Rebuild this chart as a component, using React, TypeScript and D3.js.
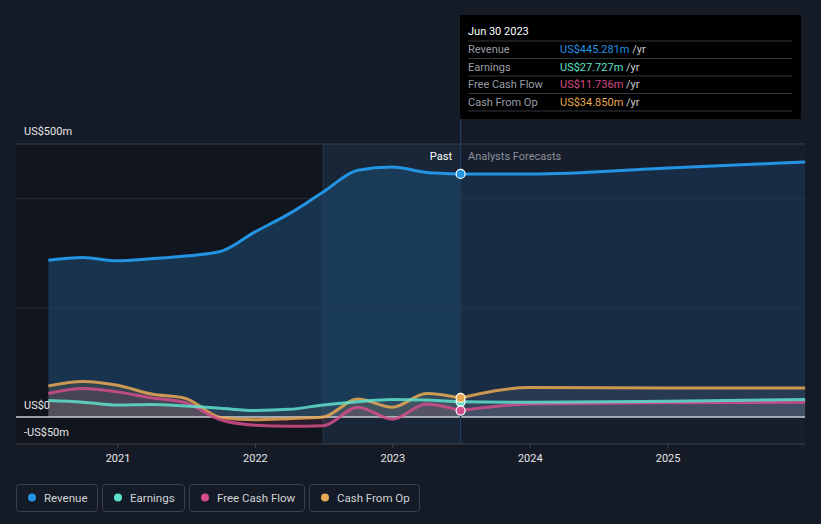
import * as d3 from "d3";

const pastDates = [
  "2020-06-30", "2020-09-30", "2020-12-31", "2021-03-31", "2021-06-30", "2021-09-30",
  "2021-12-31", "2022-03-31", "2022-06-30", "2022-09-30", "2022-12-31", "2023-03-31", "2023-06-30",
];
const forecastDates = ["2023-06-30", "2023-12-31", "2024-12-31", "2025-12-31"];

const revenuePast = [287, 292, 286, 290, 295, 303, 339, 372, 412, 452, 458, 448, 445.281];
const earningsPast = [30, 27, 22, 23, 20, 16, 12, 14, 22, 28, 32, 31, 27.727];
const fcfPast = [43, 52, 46, 35, 26, -5, -15, -17, -16, 18, -4, 24, 11.736];
const cfoPast = [57, 65, 58, 42, 34, -1, -5, -3, 0, 33, 18, 43, 34.85];

const revenueFc = [445.281, 445, 456, 467];
const earningsFc = [27.727, 27, 29, 32];
const fcfFc = [11.736, 24, 26, 27];
const cfoFc = [34.85, 54, 53, 53];

const yearTicks = ["2021", "2022", "2023", "2024", "2025"];
const gridValues = [500, 400, 200];

const W = 821;
const H = 524;
const left = 16;
const right = 805;
const top = 144;
const bottom = 444;

const C = {
  rev: "#2394e3",
  earn: "#5ee0cc",
  fcf: "#d24d8a",
  cfo: "#e8a954",
};

const parse = d3.timeParse("%Y-%m-%d");

const x = d3
  .scaleTime()
  .domain([new Date(2021, 0, 1), new Date(2026, 0, 1)])
  .range([118, 805.5]);
const y = d3.scaleLinear().domain([-50, 500]).range([444.3, 144]);

const nowDate = parse("2023-06-30")!;
const yearAgo = parse("2022-06-30")!;
const xNow = x(nowDate);
const xYearAgo = x(yearAgo);

type Pt = { d: Date; v: number };
const zip = (dates: string[], vals: number[]): Pt[] =>
  dates.map((s, i) => ({ d: parse(s)!, v: vals[i] }));

const line = d3
  .line<Pt>()
  .x((p) => x(p.d))
  .y((p) => y(p.v))
  .curve(d3.curveMonotoneX);
const area = d3
  .area<Pt>()
  .x((p) => x(p.d))
  .y0(y(0))
  .y1((p) => y(p.v))
  .curve(d3.curveMonotoneX);

const series = [
  { name: "Revenue", color: C.rev, past: revenuePast, fc: revenueFc },
  { name: "Earnings", color: C.earn, past: earningsPast, fc: earningsFc },
  { name: "Free Cash Flow", color: C.fcf, past: fcfPast, fc: fcfFc },
  { name: "Cash From Op", color: C.cfo, past: cfoPast, fc: cfoFc },
];

const tipRows = [
  { label: "Revenue", value: "US$445.281m", color: C.rev },
  { label: "Earnings", value: "US$27.727m", color: C.earn },
  { label: "Free Cash Flow", value: "US$11.736m", color: C.fcf },
  { label: "Cash From Op", value: "US$34.850m", color: C.cfo },
];

const legendBoxes = [
  { x: 16, w: 81 },
  { x: 102, w: 82 },
  { x: 189, w: 115 },
  { x: 309, w: 110 },
];

export default function App() {
  const lower = series.slice(1);
  return (
    <svg
      width={W}
      height={H}
      style={{ position: "absolute", left: 0, top: 0, fontFamily: "Roboto, sans-serif" }}
    >
      <rect width={W} height={H} fill="#151b26" />
      {/* past zone darker */}
      <rect x={left} y={top} width={xYearAgo - left} height={bottom - top} fill="#10141c" opacity={0.75} />
      {/* last year highlight */}
      <rect x={xYearAgo} y={top} width={xNow - xYearAgo} height={bottom - top} fill="#1a2b3e" opacity={0.7} />
      <line x1={xYearAgo} x2={xYearAgo} y1={top} y2={bottom} stroke="#2a3a4c" strokeWidth={1} />
      {/* forecast zone */}
      <rect x={xNow} y={top} width={right - xNow} height={bottom - top} fill="#172030" opacity={0.5} />

      {gridValues.map((g) => (
        <line
          key={g}
          x1={left}
          x2={right}
          y1={y(g)}
          y2={y(g)}
          stroke={g === 500 ? "#3a3f49" : "#262c37"}
          strokeWidth={1}
        />
      ))}

      {/* revenue area */}
      <path d={area(zip(pastDates, revenuePast))!} fill="#1d4d75" opacity={0.55} />
      <path d={area(zip(forecastDates, revenueFc))!} fill="#1d4d75" opacity={0.35} />

      {/* lower series areas */}
      {lower.map((s) => (
        <g key={s.name + "a"}>
          <path d={area(zip(pastDates, s.past))!} fill={s.color === C.earn ? "#9aa0aa" : s.color} opacity={0.13} />
          <path d={area(zip(forecastDates, s.fc))!} fill="#9aa0aa" opacity={0.12} />
        </g>
      ))}

      {/* zero line */}
      <line x1={left} x2={right} y1={y(0)} y2={y(0)} stroke="#c9ccd1" strokeWidth={1.5} />

      {/* lines */}
      {series
        .slice()
        .reverse()
        .map((s) => (
          <g key={s.name}>
            <path d={line(zip(pastDates, s.past))!} fill="none" stroke={s.color} strokeWidth={3} opacity={s.name === "Revenue" ? 1 : 0.85} />
            <path d={line(zip(forecastDates, s.fc))!} fill="none" stroke={s.color} strokeWidth={3} opacity={s.name === "Revenue" ? 1 : 0.85} />
          </g>
        ))}

      {/* now line */}
      <line x1={xNow} x2={xNow} y1={15} y2={bottom} stroke="#1f3a55" strokeWidth={1.5} />

      {/* markers */}
      {series.map((s) => (
        <circle
          key={s.name + "m"}
          cx={xNow}
          cy={y(s.past[s.past.length - 1])}
          r={4.5}
          fill={s.color}
          stroke="#ffffff"
          strokeWidth={1.2}
        />
      ))}

      <text x={452} y={160} fill="#ffffff" fontSize={11} textAnchor="end">Past</text>
      <text x={468} y={160} fill="#8b9099" fontSize={11}>Analysts Forecasts</text>

      {/* y labels */}
      <text x={24} y={135} fill="#e6e6e6" fontSize={11}>US$500m</text>
      <text x={24} y={409} fill="#e6e6e6" fontSize={11}>US$0</text>
      <text x={24} y={436} fill="#e6e6e6" fontSize={11}>-US$50m</text>

      {/* x axis */}
      <line x1={left} x2={right} y1={bottom} y2={bottom} stroke="#3c414b" strokeWidth={1} />
      {yearTicks.map((t) => {
        const xx = x(new Date(+t, 0, 1));
        return (
          <g key={t}>
            <line x1={xx} x2={xx} y1={bottom} y2={bottom + 4} stroke="#3c414b" />
            <text x={xx} y={462} fill="#e6e6e6" fontSize={11} textAnchor="middle">{t}</text>
          </g>
        );
      })}

      {/* tooltip */}
      <rect x={460} y={15} width={341} height={104} fill="#000000" />
      <text x={468} y={35} fill="#ffffff" fontSize={11}>Jun 30 2023</text>
      {[41, 58.5, 76, 93.5, 111].map((ly) => (
        <line key={ly} x1={468} x2={792} y1={ly} y2={ly} stroke="#33373e" strokeWidth={1} />
      ))}
      {tipRows.map((r, i) => (
        <g key={r.label}>
          <text x={468} y={53 + i * 17.5} fill="#9a9ea6" fontSize={11}>{r.label}</text>
          <text x={560} y={53 + i * 17.5} fontSize={11}>
            <tspan fill={r.color}>{r.value}</tspan>
            <tspan fill="#c9ccd1"> /yr</tspan>
          </text>
        </g>
      ))}

      {/* legend */}
      {series.map((s, i) => {
        const b = legendBoxes[i];
        return (
          <g key={s.name + "l"}>
            <rect x={b.x + 0.5} y={484.5} width={b.w} height={27} rx={3} fill="none" stroke="#3a3f49" />
            <circle cx={b.x + 16} cy={497.5} r={4} fill={s.color} />
            <text x={b.x + 28} y={501.5} fill="#d0d2d6" fontSize={11.5}>{s.name}</text>
          </g>
        );
      })}
    </svg>
  );
}
